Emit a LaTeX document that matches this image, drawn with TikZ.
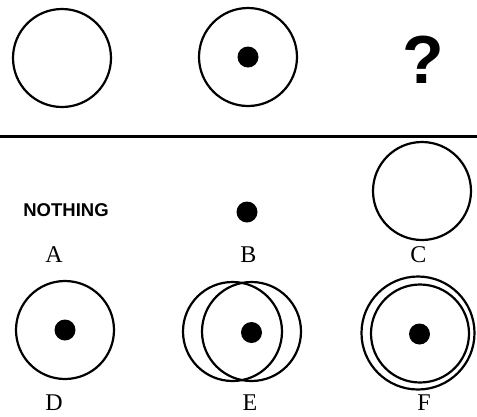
\documentclass[tikz,border=0pt]{standalone}
\usepackage{fontspec}
\setmainfont{Liberation Serif}
\newfontfamily\sansb{Liberation Sans}
\begin{document}
\begin{tikzpicture}[x=1pt,y=-1pt,
  ring/.style={circle,draw=black,line width=2.2pt,inner sep=0pt,minimum size=#1},
  dotb/.style={circle,fill=black,inner sep=0pt,minimum size=21pt},
  lab/.style={anchor=base,inner sep=0pt,font=\fontsize{24}{24}\selectfont}]
\useasboundingbox[fill=white] (0,0) rectangle (477,416);
% top row
\node[ring=98pt] (t1) at (62,58) {};
\node[ring=98pt] (t2) at (248,57) {};
\node[dotb] (t2d) at (248,57) {};
\node[anchor=base,inner sep=0pt,font=\sansb\fontsize{68}{68}\selectfont\bfseries] (q) at (423.5,83) {?};
% separator
\coordinate (l1) at (0,136);
\coordinate (l2) at (477,136);
\draw[line width=3pt] (l1) -- (l2);
% middle row
\node[inner sep=0pt,font=\sansb\fontsize{18.5}{18.5}\selectfont\bfseries] (nothing) at (66,210) {NOTHING};
\node[dotb] (bd) at (247,212) {};
\node[ring=98pt] (c) at (422,191) {};
\node[lab] (la) at (54,262) {A};
\node[lab] (lb) at (248.5,262) {B};
\node[lab] (lc) at (418.5,262) {C};
% bottom row
\node[ring=98pt] (d) at (65,330) {};
\node[dotb] (dd) at (65,330) {};
\node[ring=99pt] (e1) at (232.5,331.5) {};
\node[ring=99pt] (e2) at (251.5,331.5) {};
\node[dotb] (ed) at (251.5,332.5) {};
\node[ring=113pt] (f1) at (418,333) {};
\node[ring=98pt] (f2) at (420,333.5) {};
\node[dotb] (fd) at (419.5,334) {};
\node[lab] (ld) at (54,410) {D};
\node[lab] (le) at (250,410) {E};
\node[lab] (lf) at (424,410) {F};
\end{tikzpicture}
\end{document}
